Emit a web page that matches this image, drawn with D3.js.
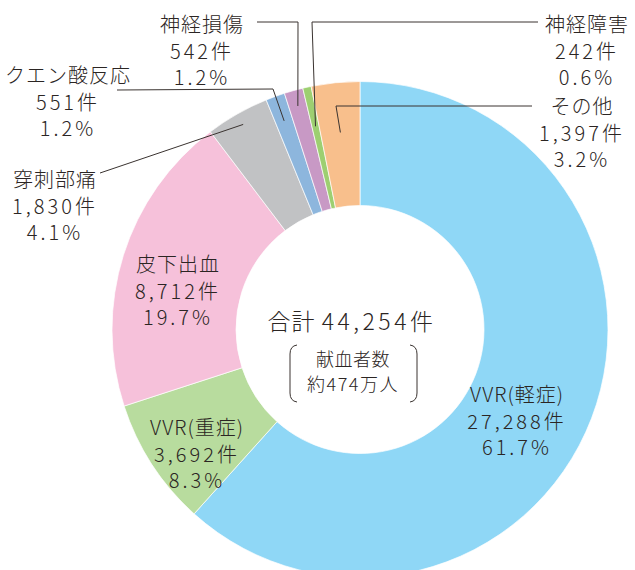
<!DOCTYPE html>
<html>
<head>
<meta charset="utf-8">
<script src="https://cdn.jsdelivr.net/npm/d3@7"></script>
<style>
  body { margin: 0; background: #fff; }
  svg text { font-family: "Noto Sans CJK JP", "Noto Sans", sans-serif; font-weight: 300; fill: #2b2523; }
</style>
</head>
<body>
<svg id="chart" width="635" height="570"></svg>
<script>
const categories = ['VVR(軽症)', 'VVR(重症)', '皮下出血', '穿刺部痛', 'クエン酸反応', '神経損傷', '神経障害', 'その他'];
const counts = [27288, 3692, 8712, 1830, 551, 542, 242, 1397];
const countLabels = ['27,288件', '3,692件', '8,712件', '1,830件', '551件', '542件', '242件', '1,397件'];
const percents = ['61.7%', '8.3%', '19.7%', '4.1%', '1.2%', '1.2%', '0.6%', '3.2%'];
const colors = ['#8fd7f6', '#b8dc9e', '#f6c1da', '#c1c2c4', '#8db6dd', '#c899c5', '#9dcf71', '#f8bf8c'];
const totalLabel = ['合計', '44,254件'];
const donorLabel = ['献血者数', '約474万人'];

// label layout: text centre, and for outside labels the leader path + radius where it ends
const labelLayout = [
    { x: 517, y: 395 },
    { x: 197, y: 428 },
    { x: 178, y: 265 },
    { x: 55, y: 180, leader: [[100, 173]], r: 236 },
    { x: 68, y: 76, leader: [[117, 90], [273, 89]], r: 222 },
    { x: 202, y: 25, leader: [[257, 22], [298, 22]], r: 232 },
    { x: 587, y: 25, leader: [[538, 22], [312, 22]], r: 208 },
    { x: 582, y: 107, leader: [[532, 106], [336, 106]], r: 198 }
];

const svg = d3.select('#chart');
const cx = 360, cy = 329.5;
const outerR = 248, innerR = 124;

const g = svg.append('g').attr('transform', `translate(${cx},${cy})`);

const pie = d3.pie().sort(null).value(d => d);
const arcs = pie(counts);
const arc = d3.arc().innerRadius(innerR).outerRadius(outerR);

g.selectAll('path.slice')
    .data(arcs)
    .enter().append('path')
    .attr('class', 'slice')
    .attr('d', arc)
    .attr('fill', (d, i) => colors[i])
    .attr('stroke', '#fff')
    .attr('stroke-width', 0.7);

// leader lines
arcs.forEach((d, i) => {
    const L = labelLayout[i];
    if (!L.leader) return;
    const mid = (d.startAngle + d.endAngle) / 2;
    const end = [cx + L.r * Math.sin(mid), cy - L.r * Math.cos(mid)];
    const pts = L.leader.concat([end]);
    svg.append('path')
        .attr('d', d3.line()(pts))
        .attr('fill', 'none')
        .attr('stroke', '#3a3330')
        .attr('stroke-width', 1);
});

// slice labels: name, count, percent
arcs.forEach((d, i) => {
    const L = labelLayout[i];
    const t = svg.append('text')
        .attr('text-anchor', 'middle')
        .attr('font-size', 20);
    [categories[i], countLabels[i], percents[i]].forEach((s, k) => {
        t.append('tspan')
            .attr('x', L.x)
            .attr('y', L.y + k * 26.5)
            .attr('dy', '0.35em')
            .attr('letter-spacing', k === 0 ? 1 : 3)
            .text(s);
    });
});

// centre text
const total = svg.append('text')
    .attr('x', 352).attr('y', 322).attr('dy', '0.35em')
    .attr('text-anchor', 'middle')
    .attr('font-size', 23);
total.append('tspan').attr('letter-spacing', 1).text(totalLabel[0] + ' ');
total.append('tspan').attr('letter-spacing', 3.5).text(totalLabel[1]);

donorLabel.forEach((s, k) => {
    svg.append('text')
        .attr('x', 353).attr('y', 360 + k * 25).attr('dy', '0.35em')
        .attr('text-anchor', 'middle')
        .attr('font-size', 18)
        .attr('letter-spacing', k === 0 ? 0.5 : 1.5)
        .text(s);
});

// brackets around donor count
const bracket = d3.path();
bracket.moveTo(297, 345); bracket.quadraticCurveTo(290, 346, 290, 354);
bracket.lineTo(290, 393); bracket.quadraticCurveTo(290, 401, 297, 402);
bracket.moveTo(410, 345); bracket.quadraticCurveTo(417, 346, 417, 354);
bracket.lineTo(417, 393); bracket.quadraticCurveTo(417, 401, 410, 402);
svg.append('path')
    .attr('d', bracket.toString())
    .attr('fill', 'none')
    .attr('stroke', '#3a3330')
    .attr('stroke-width', 1);
</script>
</body>
</html>
